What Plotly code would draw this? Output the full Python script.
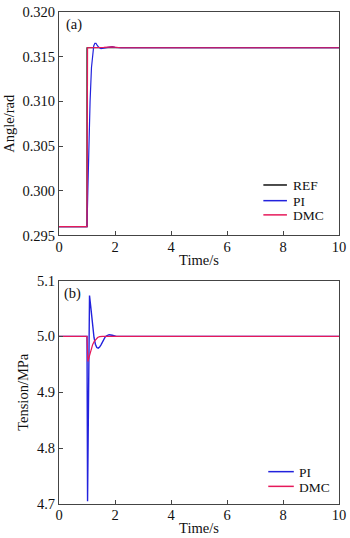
import plotly.graph_objects as go
from plotly.subplots import make_subplots

# ---- data ----
ref_t = [0, 1.0, 1.0, 10]
ref_angle = [0.296, 0.296, 0.316, 0.316]

pi_t_a = [0, 1.0, 1.03, 1.06, 1.11, 1.16, 1.20, 1.24, 1.28, 1.32, 1.36, 1.42, 1.50, 1.60,
          1.70, 1.80, 1.90, 2.00, 2.20, 10]
pi_angle = [0.296, 0.296, 0.300, 0.305, 0.310, 0.3138, 0.3155, 0.3162, 0.3165, 0.3165, 0.3163,
            0.31605, 0.3159, 0.31595, 0.31605, 0.31612, 0.31612, 0.31605, 0.316, 0.316]

dmc_t_a = [0, 1.0, 1.02, 1.3, 1.6, 1.9, 2.2, 10]
dmc_angle = [0.296, 0.296, 0.316, 0.316, 0.31605, 0.3161, 0.316, 0.316]

pi_t_b = [0, 1.0, 1.02, 1.09, 1.13, 1.17, 1.21, 1.25, 1.30, 1.35, 1.40, 1.45, 1.50, 1.55,
          1.60, 1.65, 1.70, 1.79, 1.90, 2.05, 10]
pi_tension = [5.0, 5.0, 4.705, 5.073, 5.055, 5.035, 5.015, 4.998, 4.986, 4.980, 4.979, 4.981,
              4.985, 4.990, 4.995, 4.999, 5.001, 5.003, 5.002, 5.0, 5.0]

dmc_t_b = [0, 1.0, 1.03, 1.08, 1.14, 1.2, 1.26, 1.32, 1.38, 1.45, 1.55, 10]
dmc_tension = [5.0, 5.0, 4.955, 4.965, 4.976, 4.985, 4.991, 4.995, 4.998, 4.9995, 5.0, 5.0]

x_ticks = [0, 2, 4, 6, 8, 10]
angle_ticks = [0.295, 0.300, 0.305, 0.310, 0.315, 0.320]
tension_ticks = [4.7, 4.8, 4.9, 5.0, 5.1]

legend_a = ["REF", "PI", "DMC"]
legend_b = ["PI", "DMC"]
panel_labels = ["(a)", "(b)"]

C_REF = "#111111"
C_PI = "#2222dd"
C_DMC = "#e6195a"
FONT = "Liberation Serif, Times New Roman, serif"
AX = "#444444"
TXT = "#111111"
FS = 14.5
LFS = 13.5

fig = make_subplots(rows=2, cols=1, vertical_spacing=0.0)

fig.add_trace(go.Scatter(x=ref_t, y=ref_angle, mode="lines", name="REF",
                         line=dict(color=C_REF, width=1.2), showlegend=False), row=1, col=1)
fig.add_trace(go.Scatter(x=pi_t_a, y=pi_angle, mode="lines", name="PI",
                         line=dict(color=C_PI, width=1.2), showlegend=False), row=1, col=1)
fig.add_trace(go.Scatter(x=dmc_t_a, y=dmc_angle, mode="lines", name="DMC",
                         line=dict(color=C_DMC, width=1.2), showlegend=False), row=1, col=1)

fig.add_trace(go.Scatter(x=pi_t_b, y=pi_tension, mode="lines", name="PI",
                         line=dict(color=C_PI, width=1.4), showlegend=False), row=2, col=1)
fig.add_trace(go.Scatter(x=dmc_t_b, y=dmc_tension, mode="lines", name="DMC",
                         line=dict(color=C_DMC, width=1.2), showlegend=False), row=2, col=1)

axis_common = dict(showline=True, mirror=True, linecolor=AX, linewidth=1,
                   ticks="inside", ticklen=4, tickcolor=AX, showgrid=False, zeroline=False,
                   ticklabeloverflow="allow",
                   tickfont=dict(family=FONT, size=FS, color=TXT))

fig.update_xaxes(range=[0, 10], tickvals=x_ticks, ticktext=[str(v) for v in x_ticks],
                 ticklabelstandoff=-2,
                 title=dict(text="Time/s", font=dict(family=FONT, size=FS, color=TXT),
                            standoff=0), **axis_common)
fig.update_yaxes(range=[0.295, 0.320], tickvals=angle_ticks,
                 ticktext=[f"{v:.3f}" for v in angle_ticks],
                 domain=[0.5458, 1.0],
                 title=dict(text="Angle/rad", font=dict(family=FONT, size=FS, color=TXT),
                            standoff=4), row=1, col=1, **axis_common)
fig.update_yaxes(range=[4.7, 5.1], tickvals=tension_ticks,
                 ticktext=[f"{v:.1f}" for v in tension_ticks],
                 domain=[0.0, 0.4542],
                 title=dict(text="Tension/MPa", font=dict(family=FONT, size=FS, color=TXT),
                            standoff=4), row=2, col=1, **axis_common)

# manual legends (paper coords)
def px_x(p):
    return (p - 59) / 285.0

def px_y(p):
    return (506 - p) / 502.0

shapes = []
annots = []
leg_a_rows = [(legend_a[0], C_REF, 180.5), (legend_a[1], C_PI, 196.5), (legend_a[2], C_DMC, 211)]
for name, col, py in leg_a_rows:
    shapes.append(dict(type="line", xref="paper", yref="paper", x0=px_x(267), x1=px_x(291),
                       y0=px_y(py), y1=px_y(py), line=dict(color=col, width=1.5)))
    annots.append(dict(xref="paper", yref="paper", x=px_x(295), y=px_y(py + 1), text=name,
                       showarrow=False, xanchor="left", yanchor="middle",
                       font=dict(family=FONT, size=LFS, color=TXT)))
leg_b_rows = [(legend_b[0], C_PI, 473), (legend_b[1], C_DMC, 488)]
for name, col, py in leg_b_rows:
    shapes.append(dict(type="line", xref="paper", yref="paper", x0=px_x(272), x1=px_x(298),
                       y0=px_y(py), y1=px_y(py), line=dict(color=col, width=1.5)))
    annots.append(dict(xref="paper", yref="paper", x=px_x(301), y=px_y(py + 1), text=name,
                       showarrow=False, xanchor="left", yanchor="middle",
                       font=dict(family=FONT, size=LFS, color=TXT)))

annots.append(dict(xref="paper", yref="paper", x=px_x(64), y=px_y(17), text=panel_labels[0],
                   showarrow=False, xanchor="left", yanchor="middle",
                   font=dict(family=FONT, size=FS, color=TXT)))
annots.append(dict(xref="paper", yref="paper", x=px_x(62), y=px_y(291), text=panel_labels[1],
                   showarrow=False, xanchor="left", yanchor="middle",
                   font=dict(family=FONT, size=FS, color=TXT)))

fig.update_layout(width=350, height=538, margin=dict(l=59, r=6, t=4, b=32),
                  paper_bgcolor="white", plot_bgcolor="white",
                  shapes=shapes, annotations=annots, showlegend=False)

fig.write_html("out.html")
